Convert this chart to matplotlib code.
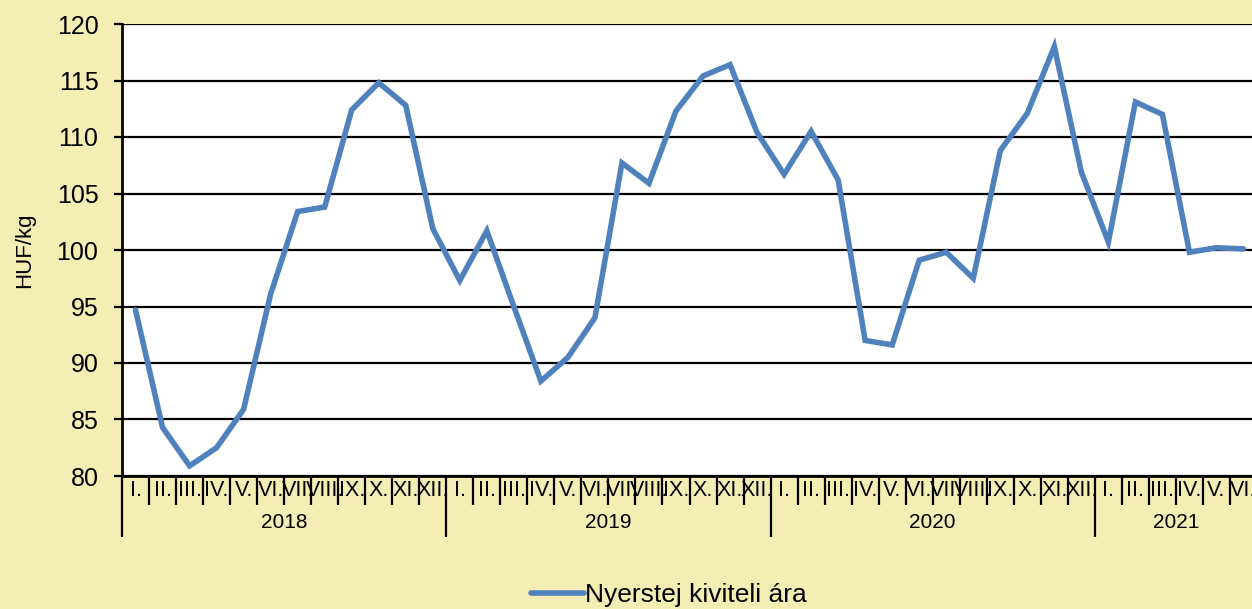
import matplotlib
matplotlib.use("Agg")
import matplotlib.pyplot as plt
import matplotlib.transforms as mtrans

plt.rcParams['font.family'] = ['Liberation Sans', 'DejaVu Sans']

months = ["I.", "II.", "III.", "IV.", "V.", "VI.", "VII.", "VIII.", "IX.", "X.", "XI.", "XII."]
years = ["2018", "2019", "2020", "2021"]
months_per_year = [12, 12, 12, 6]
values = [94.7, 84.3, 80.9, 82.5, 85.9, 96.1, 103.4, 103.8, 112.4, 114.8, 112.8, 101.9,
          97.3, 101.7, 95.0, 88.4, 90.5, 94.0, 107.7, 105.9, 112.3, 115.4, 116.4, 110.4,
          106.7, 110.5, 106.2, 92.0, 91.6, 99.1, 99.8, 97.5, 108.8, 112.1, 118.0, 106.9,
          100.7, 113.1, 112.0, 99.8, 100.2, 100.1]
series_name = "Nyerstej kiviteli ára"
y_label = "HUF/kg"
y_ticks = [80, 85, 90, 95, 100, 105, 110, 115, 120]

W, H = 1252, 609
bg = "#F5EEB4"
fig = plt.figure(figsize=(W / 100, H / 100), dpi=100, facecolor=bg)
left, right_px, top, bottom = 122, 1257, 24, 476
ax = fig.add_axes([left / W, (H - bottom) / H, (right_px - left) / W, (bottom - top) / H])
ax.set_facecolor("white")

n = len(values)
xs = list(range(n))
line, = ax.plot(xs, values, color="#4F81BD", lw=4.0, solid_joinstyle="miter",
                solid_capstyle="round", label=series_name, zorder=3)

ax.set_xlim(-0.5, n - 0.5)
ax.set_ylim(80, 120)
ax.set_yticks(y_ticks)
ax.set_yticklabels([str(v) for v in y_ticks], fontsize=18)
ax.yaxis.grid(True, color="black", lw=1.6)
ax.set_axisbelow(True)
ax.tick_params(axis="y", length=6, width=1.6, direction="out", pad=11)

for s in ["top", "right"]:
    ax.spines[s].set_visible(False)
ax.spines["left"].set_linewidth(2)
ax.spines["bottom"].set_linewidth(2)

# category separators
bounds = [-0.5]
for m in months_per_year:
    bounds.append(bounds[-1] + m)
major = [b for b in bounds if b < n - 0.5]
minor = [i - 0.5 for i in range(n) if (i - 0.5) not in major]
ax.set_xticks(major)
ax.set_xticks(minor, minor=True)
ax.set_xticklabels([])
ax.tick_params(axis="x", which="major", length=44, width=1.6, direction="out")
ax.tick_params(axis="x", which="minor", length=21, width=1.6, direction="out")

trans = mtrans.blended_transform_factory(ax.transData, fig.transFigure)
k = 0
for yr, m in zip(years, months_per_year):
    for j in range(m):
        ax.text(k + j, 1 - 491 / H, months[j], transform=trans, ha="center", va="center",
                fontsize=15.5, clip_on=False)
    ax.text(k + (m - 1) / 2, 1 - 523 / H, yr, transform=trans,
            ha="center", va="center", fontsize=15, clip_on=False)
    k += m

fig.text(25 / W, 1 - 250 / H, y_label, rotation=90, ha="center", va="center", fontsize=16)

fig.legend(handles=[line], loc="center", bbox_to_anchor=(669 / W, 1 - 595 / H),
           frameon=False, fontsize=19, handlelength=2.0, handletextpad=0.05,
           borderpad=0)

fig.savefig("out.png", dpi=100, facecolor=bg)
